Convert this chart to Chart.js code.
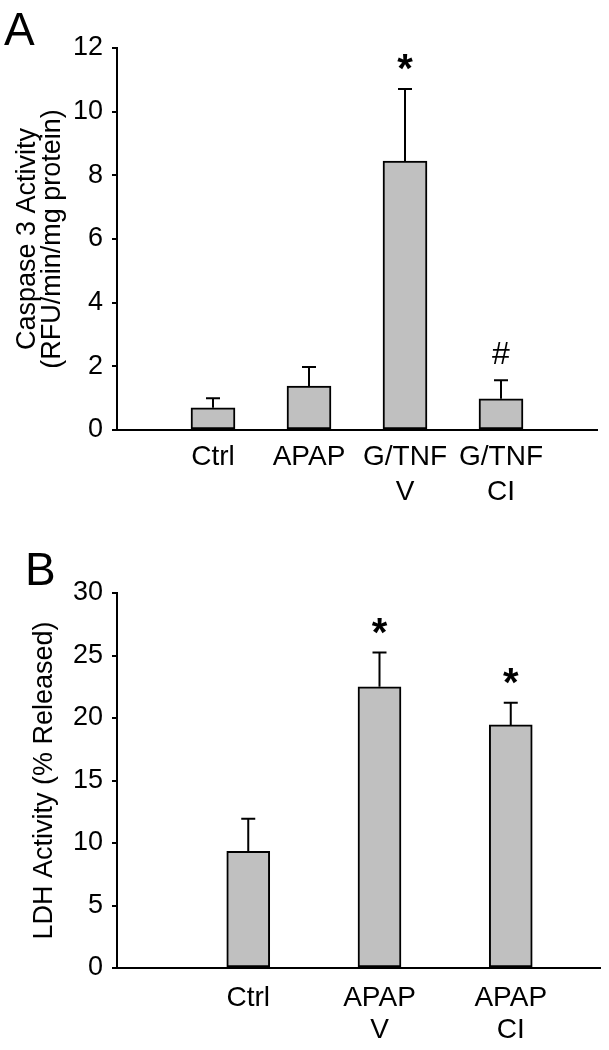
<!DOCTYPE html>
<html>
<head>
<meta charset="utf-8">
<script src="https://cdn.jsdelivr.net/npm/chart.js@4.4.1/dist/chart.umd.min.js"></script>
<style>
  html, body { margin: 0; padding: 0; background: #fff; }
  .panel { position: absolute; left: 0; width: 609px; }
  #wrapA { top: 0; height: 520px; }
  #wrapB { top: 520px; height: 530px; }
</style>
</head>
<body>
<div class="panel" id="wrapA"><canvas id="chartA" width="609" height="520"></canvas></div>
<div class="panel" id="wrapB"><canvas id="chartB" width="609" height="530"></canvas></div>
<script>
// ---- data, panel A: caspase 3 ----
const catsA = [["Ctrl"], ["APAP"], ["G/TNF", "V"], ["G/TNF", "CI"]];
const meanA = [0.70, 1.38, 8.45, 0.98];
const semA = [0.30, 0.60, 2.26, 0.58];
const marksA = ["", "", "*", "#"];
const ticksA = [0, 2, 4, 6, 8, 10, 12];

// ---- data, panel B: LDH release ----
const catsB = [["Ctrl"], ["APAP", "V"], ["APAP", "CI"]];
const meanB = [9.34, 22.5, 19.45];
const semB = [2.6, 2.74, 1.77];
const marksB = ["", "*", "*"];
const ticksB = [0, 5, 10, 15, 20, 25, 30];

const FONT = "'Liberation Sans', Arial, Helvetica, sans-serif";
Chart.defaults.font.family = FONT;
Chart.defaults.color = "#000";

// error bars (upper only) + significance marks drawn above each bar
const errorBarPlugin = {
  id: "errorBars",
  afterDatasetsDraw(chart) {
    const opts = chart.options.plugins.errorBars;
    const { ctx, scales } = chart;
    const meta = chart.getDatasetMeta(0);
    ctx.save();
    ctx.strokeStyle = "#000";
    ctx.lineWidth = 2;
    meta.data.forEach((bar, i) => {
      const top = scales.y.getPixelForValue(opts.mean[i] + opts.err[i]);
      ctx.beginPath();
      ctx.moveTo(bar.x, bar.y);
      ctx.lineTo(bar.x, top);
      ctx.moveTo(bar.x - 7, top);
      ctx.lineTo(bar.x + 7, top);
      ctx.stroke();
      const mark = opts.marks[i];
      if (!mark) return;
      ctx.fillStyle = "#000";
      ctx.font = mark === "*" ? `bold 40px ${FONT}` : `32px ${FONT}`;
      ctx.textAlign = "center";
      ctx.textBaseline = "alphabetic";
      const m = ctx.measureText(mark);
      const cy = top - 27;
      ctx.fillText(mark, bar.x, cy + (m.actualBoundingBoxAscent - m.actualBoundingBoxDescent) / 2);
    });
    ctx.restore();
  },
};

// big panel letter in the corner
const panelLetterPlugin = {
  id: "panelLetter",
  afterDraw(chart) {
    const o = chart.options.plugins.panelLetter;
    const { ctx } = chart;
    ctx.save();
    ctx.fillStyle = "#000";
    ctx.font = `46px ${FONT}`;
    ctx.textAlign = "left";
    ctx.textBaseline = "alphabetic";
    ctx.fillText(o.text, o.x, o.y);
    ctx.restore();
  },
};

function makeChart(canvas, cfg) {
  return new Chart(canvas, {
    type: "bar",
    data: {
      datasets: [{
        data: cfg.mean.map((v, i) => ({ x: i + 1, y: v })),
        backgroundColor: "#c0c0c0",
        borderColor: "#000",
        borderWidth: 2,
        borderSkipped: false,
        barThickness: cfg.barWidth,
      }],
    },
    options: {
      responsive: false,
      devicePixelRatio: 1,
      animation: false,
      layout: { padding: { top: cfg.padTop, right: cfg.padRight, left: 0, bottom: 0 } },
      scales: {
        x: {
          type: "linear",
          offset: false,
          min: 0,
          max: cfg.xMax,
          grid: { display: false },
          border: { display: true, color: "#000", width: 2 },
          afterBuildTicks: (s) => { s.ticks = cfg.cats.map((_, i) => ({ value: i + 1 })); },
          afterFit: (s) => { s.height = cfg.xHeight; },
          ticks: {
            autoSkip: false,
            maxRotation: 0,
            padding: cfg.xPad,
            font: { size: 28, lineHeight: cfg.xLine },
            color: "#000",
            callback: (v) => cfg.cats[v - 1],
          },
        },
        y: {
          min: 0,
          max: cfg.ticks[cfg.ticks.length - 1],
          afterBuildTicks: (s) => { s.ticks = cfg.ticks.map((v) => ({ value: v })); },
          afterFit: (s) => { s.width = 117; },
          grid: { drawOnChartArea: false, drawTicks: true, tickLength: 5, color: "#000", lineWidth: 2 },
          border: { display: true, color: "#000", width: 2 },
          ticks: { padding: 9, font: { size: 27 }, color: "#000" },
          title: {
            display: true,
            text: cfg.title,
            color: "#000",
            font: { size: 27, lineHeight: 0.93 },
            padding: { top: cfg.titlePad, bottom: 0 },
          },
        },
      },
      plugins: {
        legend: { display: false },
        tooltip: { enabled: false },
        errorBars: { mean: cfg.mean, err: cfg.err, marks: cfg.marks },
        panelLetter: cfg.letter,
      },
    },
    plugins: [errorBarPlugin, panelLetterPlugin],
  });
}

makeChart(document.getElementById("chartA"), {
  cats: catsA, mean: meanA, err: semA, marks: marksA, ticks: ticksA,
  title: ["Caspase 3 Activity", "(RFU/min/mg protein)"], titlePad: 15,
  xMax: 5, barWidth: 44, padTop: 48, padRight: 12, xHeight: 90, xPad: 2, xLine: 1.25,
  letter: { text: "A", x: 4, y: 45 },
});

makeChart(document.getElementById("chartB"), {
  cats: catsB, mean: meanB, err: semB, marks: marksB, ticks: ticksB,
  title: "LDH Activity (% Released)", titlePad: 32,
  xMax: 3.68, barWidth: 43, padTop: 73, padRight: 9, xHeight: 82, xPad: 6, xLine: 1.15,
  letter: { text: "B", x: 25, y: 585 - 520 },
});
</script>
</body>
</html>
